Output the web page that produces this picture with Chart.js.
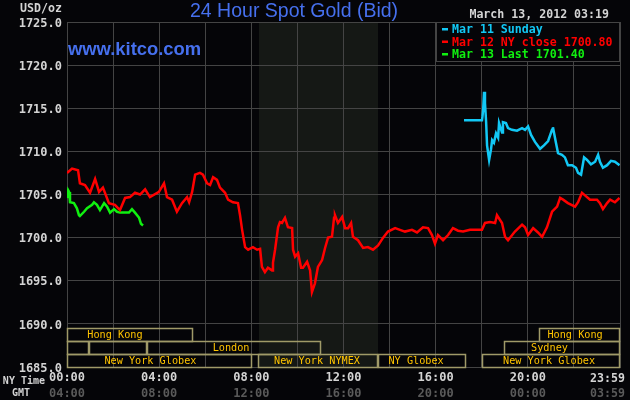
<!DOCTYPE html>
<html>
<head>
<meta charset="utf-8">
<style>
  html, body { margin: 0; padding: 0; background: #050508; }
  canvas { display: block; }
</style>
</head>
<body>
<canvas id="chart" width="630" height="400"></canvas>
<script src="https://cdn.jsdelivr.net/npm/chart.js@4.4.1/dist/chart.umd.min.js"></script>
<script>
'use strict';

// ── Data ──────────────────────────────────────────────────────
// hours are NY time (0 = midnight), values in USD/oz
const MAR11_LABEL = 'Mar 11 Sunday';
const MAR11_HOURS = [17.23, 18.01, 18.03, 18.06, 18.1, 18.14, 18.19, 18.23, 18.32, 18.4, 18.45, 18.53, 18.62, 18.71, 18.75, 18.88, 18.92, 19.05, 19.14, 19.31, 19.53, 19.75, 19.88, 20.01, 20.14, 20.31, 20.53, 20.7, 20.88, 21.05, 21.09, 21.22, 21.31, 21.48, 21.61, 21.74, 21.92, 22.09, 22.18, 22.31, 22.44, 22.57, 22.74, 22.92, 23.05, 23.13, 23.26, 23.44, 23.61, 23.78, 23.98];
const MAR11_VALUES = [1713.6, 1713.6, 1714.0, 1714.8, 1716.9, 1715.6, 1713.4, 1710.7, 1709.0, 1710.2, 1711.3, 1711.0, 1712.1, 1711.6, 1713.3, 1712.2, 1713.4, 1713.3, 1712.7, 1712.5, 1712.4, 1712.7, 1712.5, 1712.9, 1711.9, 1711.1, 1710.3, 1710.7, 1711.2, 1712.5, 1712.8, 1711.0, 1709.8, 1709.6, 1709.3, 1708.4, 1708.4, 1708.1, 1707.5, 1707.3, 1709.3, 1709.0, 1708.5, 1708.8, 1709.6, 1708.8, 1708.1, 1708.4, 1708.9, 1708.8, 1708.4];

const MAR12_LABEL = 'Mar 12 NY close 1700.80';
const MAR12_HOURS = [0, 0.22, 0.48, 0.56, 0.78, 1.0, 1.22, 1.39, 1.56, 1.82, 2.08, 2.3, 2.52, 2.73, 2.95, 3.17, 3.39, 3.6, 3.99, 4.21, 4.34, 4.56, 4.77, 4.99, 5.21, 5.3, 5.43, 5.56, 5.77, 5.9, 6.08, 6.21, 6.34, 6.51, 6.64, 6.86, 6.99, 7.2, 7.42, 7.51, 7.6, 7.73, 7.86, 8.07, 8.25, 8.38, 8.46, 8.59, 8.72, 8.9, 8.94, 9.03, 9.16, 9.24, 9.33, 9.46, 9.59, 9.77, 9.81, 9.9, 10.03, 10.16, 10.24, 10.42, 10.55, 10.63, 10.76, 10.89, 11.07, 11.2, 11.33, 11.5, 11.59, 11.63, 11.76, 11.94, 12.07, 12.2, 12.33, 12.41, 12.63, 12.85, 13.06, 13.28, 13.5, 13.72, 13.93, 14.24, 14.45, 14.67, 14.97, 15.19, 15.45, 15.67, 15.84, 15.97, 16.1, 16.32, 16.54, 16.75, 16.97, 17.19, 17.49, 18.01, 18.14, 18.36, 18.58, 18.66, 18.88, 19.01, 19.14, 19.44, 19.75, 19.88, 20.01, 20.23, 20.44, 20.62, 20.83, 21.05, 21.27, 21.4, 21.53, 21.74, 22.05, 22.18, 22.35, 22.48, 22.7, 23.0, 23.13, 23.26, 23.44, 23.57, 23.78, 23.98];
const MAR12_VALUES = [1707.5, 1708.0, 1707.8, 1706.3, 1706.1, 1705.2, 1706.8, 1705.3, 1705.8, 1704.0, 1703.8, 1703.2, 1704.6, 1704.7, 1705.2, 1705.0, 1705.6, 1704.7, 1705.3, 1706.3, 1704.7, 1704.4, 1703.0, 1704.0, 1704.7, 1704.1, 1705.3, 1707.3, 1707.5, 1707.3, 1706.3, 1706.1, 1707.0, 1706.7, 1705.8, 1705.2, 1704.4, 1704.1, 1704.0, 1702.6, 1700.9, 1698.9, 1698.6, 1698.9, 1698.6, 1698.7, 1696.6, 1696.0, 1696.5, 1696.2, 1697.1, 1698.6, 1701.2, 1701.8, 1701.7, 1702.3, 1701.2, 1701.1, 1698.6, 1697.8, 1698.2, 1696.5, 1696.5, 1697.2, 1696.2, 1693.7, 1694.7, 1696.6, 1697.4, 1698.8, 1700.0, 1700.1, 1702.3, 1702.6, 1701.7, 1702.4, 1701.1, 1701.1, 1701.7, 1700.1, 1699.7, 1698.8, 1698.9, 1698.6, 1699.1, 1700.0, 1700.7, 1701.1, 1700.9, 1700.7, 1700.9, 1700.6, 1701.2, 1701.1, 1700.3, 1699.3, 1700.3, 1699.7, 1700.3, 1701.1, 1700.8, 1700.7, 1700.9, 1700.9, 1701.7, 1701.8, 1701.7, 1702.6, 1701.7, 1700.1, 1699.7, 1700.7, 1701.5, 1701.2, 1700.3, 1701.1, 1700.6, 1700.1, 1701.2, 1703.0, 1703.6, 1704.6, 1704.4, 1704.0, 1703.6, 1704.1, 1705.2, 1704.9, 1704.4, 1704.4, 1704.0, 1703.3, 1704.0, 1704.4, 1704.1, 1704.6];

const MAR13_LABEL = 'Mar 13 Last 1701.40';
const MAR13_HOURS = [0, 0.05, 0.09, 0.13, 0.3, 0.43, 0.52, 0.56, 0.74, 0.87, 1.09, 1.17, 1.3, 1.43, 1.61, 1.74, 1.87, 2.04, 2.17, 2.3, 2.52, 2.69, 2.82, 2.95, 3.13, 3.21, 3.3];
const MAR13_VALUES = [1704.6, 1705.5, 1705.3, 1704.1, 1704.0, 1703.4, 1702.6, 1702.5, 1703.0, 1703.4, 1703.8, 1704.1, 1703.8, 1703.2, 1704.0, 1703.6, 1702.9, 1703.3, 1703.0, 1702.9, 1702.9, 1702.9, 1703.3, 1702.9, 1702.3, 1701.6, 1701.4];

// x ticks every 2 hours, labels every 4; the 24h tick is labelled separately
const NY_TICKS  = ['00:00', '', '04:00', '', '08:00', '', '12:00', '', '16:00', '', '20:00', '', ''];
const GMT_TICKS = ['04:00', '', '08:00', '', '12:00', '', '16:00', '', '20:00', '', '00:00', '', ''];
const NY_LAST = '23:59';
const GMT_LAST = '03:59';

// trading sessions (hours), the band row they sit in, and where the name goes
const SESSION_NAMES = ['Hong Kong', 'Hong Kong', '', '', 'London', 'Sydney', 'New York Globex', 'New York NYMEX', 'NY Globex', 'New York Globex'];
const SESSION_START = [0, 20.5, 0, 0.95, 3.47, 18.97, 0, 8.29, 13.5, 18.0];
const SESSION_END   = [5.47, 24, 0.95, 3.47, 11.0, 24, 8.03, 13.5, 17.3, 24];
const SESSION_NAME_AT = [2.08, 22.05, 0, 0, 7.12, 20.94, 3.62, 10.85, 15.15, 20.92];
const SESSION_ROW   = [0, 0, 1, 1, 1, 1, 2, 2, 2, 2];
const ROW_TOP = [1689.5, 1688.0, 1686.5];
const ROW_SPAN = 1.5;

// NYMEX pit hours get the shaded background
const PIT_OPEN = 8.33;
const PIT_CLOSE = 13.5;

// ── Style ─────────────────────────────────────────────────────
const MONO = '"DejaVu Sans Mono", monospace';
const SANS = '"Liberation Sans", Arial, sans-serif';
const BG = '#050508';
const GRID = '#444444';
const SHADE = '#151815';
const BLUE = '#4670ee';
const BOX = '#a09a68';
const BOX_TXT = '#ffc400';

const pts = (hs, vs) => hs.map((h, i) => ({ x: h, y: vs[i] }));

// ── Decorations ───────────────────────────────────────────────
const kitcoFrame = {
  id: 'kitcoFrame',
  beforeDraw(chart) {
    const { ctx, chartArea: a, scales } = chart;
    ctx.save();
    ctx.fillStyle = BG;
    ctx.fillRect(0, 0, chart.width, chart.height);
    const x0 = scales.x.getPixelForValue(PIT_OPEN);
    const x1 = scales.x.getPixelForValue(PIT_CLOSE);
    ctx.fillStyle = SHADE;
    ctx.fillRect(x0, a.top, x1 - x0, a.bottom - a.top);
    ctx.restore();
  },
  afterDraw(chart) {
    const { ctx, chartArea: a, scales } = chart;
    const sx = scales.x, sy = scales.y;
    ctx.save();

    // session bands
    ctx.lineWidth = 1.5;
    ctx.font = `10.2px ${MONO}`;
    ctx.textAlign = 'center';
    ctx.textBaseline = 'alphabetic';
    SESSION_NAMES.forEach((name, i) => {
      const l = sx.getPixelForValue(SESSION_START[i]);
      const r = sx.getPixelForValue(SESSION_END[i]);
      const t = sy.getPixelForValue(ROW_TOP[SESSION_ROW[i]]);
      const b = sy.getPixelForValue(ROW_TOP[SESSION_ROW[i]] - ROW_SPAN);
      ctx.strokeStyle = BOX;
      ctx.strokeRect(Math.round(l) + 0.5, Math.round(t) + 0.5, Math.round(r - l) - 1, Math.round(b - t));
      if (name) {
        ctx.fillStyle = BOX_TXT;
        ctx.fillText(name, sx.getPixelForValue(SESSION_NAME_AT[i]), b - 3.5);
      }
    });

    // legend box
    const lx = 436, ly = a.top, lw = a.right - lx, lh = 39;
    ctx.fillStyle = BG;
    ctx.fillRect(lx, ly, lw, lh);
    ctx.strokeStyle = GRID;
    ctx.lineWidth = 1;
    ctx.strokeRect(lx + 0.5, ly + 0.5, lw - 1, lh);
    ctx.font = `bold 11.6px ${MONO}`;
    ctx.textAlign = 'left';
    chart.data.datasets.forEach((ds, i) => {
      const base = ly + 11 + i * 12.5;
      ctx.fillStyle = ds.borderColor;
      ctx.fillRect(lx + 6, base - 5, 6, 2.5);
      ctx.fillText(ds.label, lx + 16, base);
    });

    // titles and labels
    ctx.fillStyle = BLUE;
    ctx.font = `19.5px ${SANS}`;
    ctx.fillText('24 Hour Spot Gold (Bid)', 190, 17);
    ctx.font = `bold 18.4px ${SANS}`;
    ctx.fillText('www.kitco.com', 68, 55);

    ctx.font = `bold 11.6px ${MONO}`;
    ctx.fillStyle = '#d4d4d4';
    ctx.textAlign = 'right';
    ctx.fillText('March 13, 2012 03:19', 609, 18);
    ctx.fillText('USD/oz', 62, 12);
    ctx.fillText(NY_LAST, 625, 382);
    ctx.font = `bold 10px ${MONO}`;
    ctx.fillText('NY Time', 45, 384);
    ctx.fillText('GMT', 30, 396);
    ctx.font = `bold 11.6px ${MONO}`;
    ctx.fillStyle = '#5a5a5a';
    ctx.fillText(GMT_LAST, 625, 397);
    ctx.restore();
  }
};

// ── Chart ─────────────────────────────────────────────────────
const tickFont = { family: MONO, size: 12, weight: 'bold' };

new Chart(document.getElementById('chart'), {
  type: 'line',
  data: {
    datasets: [
      { label: MAR11_LABEL, data: pts(MAR11_HOURS, MAR11_VALUES), borderColor: '#12c8f5', xAxisID: 'x', yAxisID: 'y' },
      { label: MAR12_LABEL, data: pts(MAR12_HOURS, MAR12_VALUES), borderColor: '#ff0000', xAxisID: 'x', yAxisID: 'y' },
      { label: MAR13_LABEL, data: pts(MAR13_HOURS, MAR13_VALUES), borderColor: '#10f010', xAxisID: 'x', yAxisID: 'y' }
    ]
  },
  options: {
    responsive: false,
    animation: false,
    devicePixelRatio: 1,
    layout: { padding: { top: 22, right: 10, left: 0, bottom: 0 } },
    elements: {
      line: { borderWidth: 2.5, tension: 0 },
      point: { radius: 0 }
    },
    plugins: { legend: { display: false }, tooltip: { enabled: false }, title: { display: false } },
    scales: {
      x: {
        type: 'linear', position: 'bottom', min: 0, max: 24,
        afterFit: (s) => { s.height = 18; s.paddingLeft = 0; s.paddingRight = 0; },
        grid: { color: GRID, drawTicks: false },
        border: { color: GRID },
        ticks: {
          stepSize: 2, autoSkip: false, maxRotation: 0, padding: 4,
          color: '#d4d4d4', font: tickFont,
          callback: (v, i) => NY_TICKS[i]
        }
      },
      x2: {
        type: 'linear', position: 'bottom', min: 0, max: 24,
        afterFit: (s) => { s.height = 15; s.paddingLeft = 0; s.paddingRight = 0; },
        grid: { display: false, drawTicks: false },
        border: { display: false },
        ticks: {
          stepSize: 2, autoSkip: false, maxRotation: 0, padding: 2,
          color: '#5a5a5a', font: tickFont,
          callback: (v, i) => GMT_TICKS[i]
        }
      },
      y: {
        min: 1685, max: 1725,
        afterFit: (s) => { s.width = 67; },
        grid: { color: GRID, drawTicks: false },
        border: { color: GRID },
        ticks: {
          stepSize: 5, padding: 5, labelOffset: 1.5,
          color: '#d4d4d4', font: tickFont,
          callback: (v) => v.toFixed(1)
        }
      }
    }
  },
  plugins: [kitcoFrame]
});
</script>
</body>
</html>
